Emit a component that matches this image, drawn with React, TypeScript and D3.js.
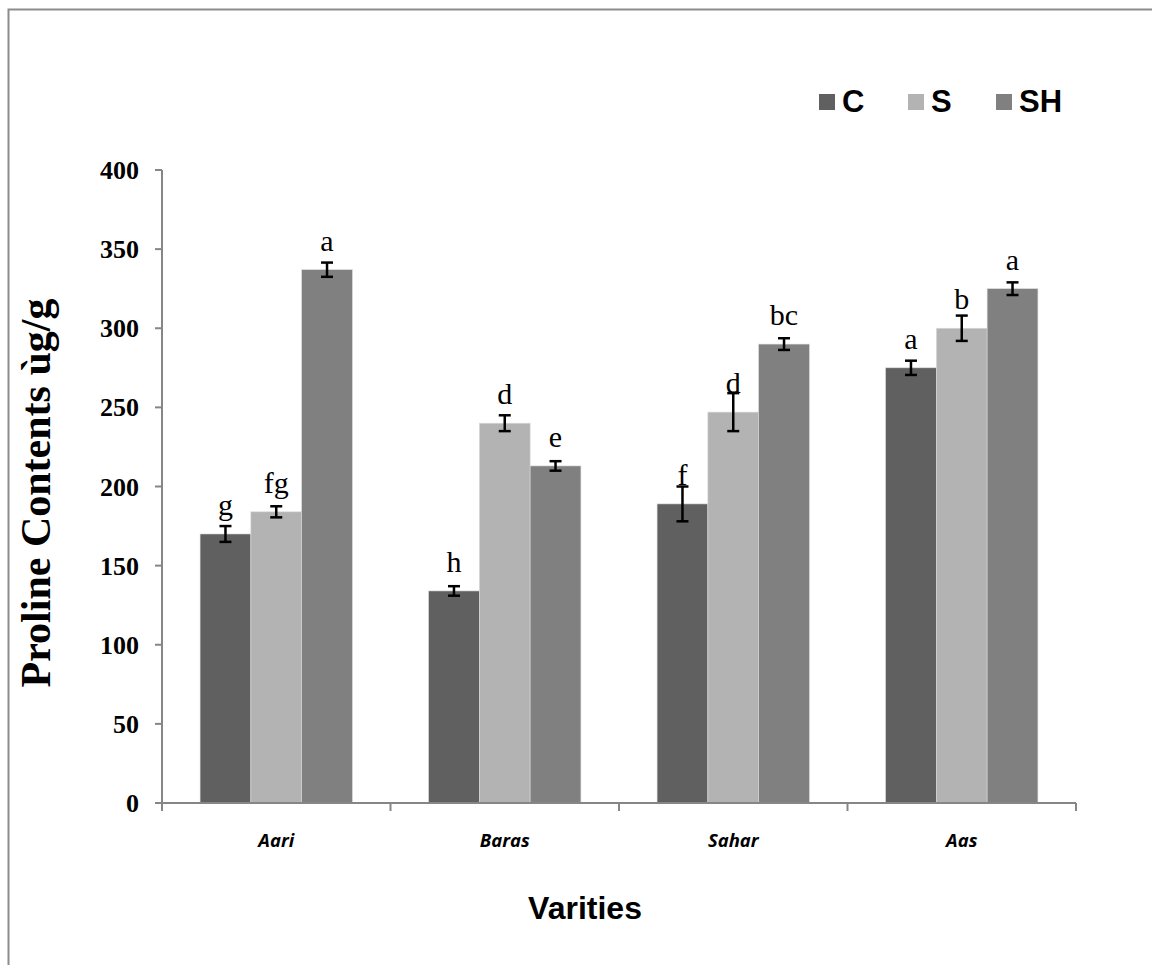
import React from "react";
import * as d3 from "d3";

const varieties = ["Aari", "Baras", "Sahar", "Aas"];
const treatments = ["C", "S", "SH"];
const valuesC = [170, 134, 189, 275];
const valuesS = [184, 240, 247, 300];
const valuesSH = [337, 213, 290, 325];
const errC = [5, 3, 11, 4.5];
const errS = [3.5, 5, 12, 8];
const errSH = [4.5, 3, 3.7, 4];
const lettersC = ["g", "h", "f", "a"];
const lettersS = ["fg", "d", "d", "b"];
const lettersSH = ["a", "e", "bc", "a"];
const yTicks = [0, 50, 100, 150, 200, 250, 300, 350, 400];

const colors: Record<string, string> = { C: "#606060", S: "#b3b3b3", SH: "#808080" };

const series = [
  { key: "C", values: valuesC, errs: errC, letters: lettersC },
  { key: "S", values: valuesS, errs: errS, letters: lettersS },
  { key: "SH", values: valuesSH, errs: errSH, letters: lettersSH },
];

export default function App() {
  const W = 1152;
  const H = 965;
  const left = 162;
  const right = 1076;
  const top = 170;
  const bottom = 803;
  const axisColor = "#868686";

  const x0 = d3.scaleBand<string>().domain(varieties).range([left, right]).paddingInner(0).paddingOuter(0);
  const cw = x0.bandwidth();
  const groupW = cw / 1.5;
  const x1 = d3
    .scaleBand<string>()
    .domain(treatments)
    .range([(cw - groupW) / 2, (cw + groupW) / 2])
    .padding(0);
  const y = d3.scaleLinear().domain([0, 400]).range([bottom, top]);

  const serif = "'Liberation Serif', 'Times New Roman', serif";
  const sans = "'Liberation Sans', Arial, sans-serif";

  return (
    <svg
      width={W}
      height={H}
      style={{ position: "absolute", left: 0, top: 0, display: "block", background: "#fff" }}
    >
      {/* outer frame */}
      <rect x={8.5} y={9.5} width={W + 10} height={H + 10} fill="#fff" stroke="#8c8c8c" strokeWidth={2} />

      {/* bars */}
      {series.map((s) =>
        varieties.map((v, i) => {
          const bx = (x0(v) as number) + (x1(s.key) as number);
          const by = y(s.values[i]);
          return (
            <rect
              key={s.key + v}
              x={bx}
              y={by}
              width={x1.bandwidth()}
              height={bottom - by}
              fill={colors[s.key]}
              stroke="#d9d9d9"
              strokeWidth={0.6}
            />
          );
        })
      )}

      {/* error bars */}
      {series.map((s) =>
        varieties.map((v, i) => {
          const cx = (x0(v) as number) + (x1(s.key) as number) + x1.bandwidth() / 2;
          const y1 = y(s.values[i] + s.errs[i]);
          const y2 = y(s.values[i] - s.errs[i]);
          return (
            <g key={"e" + s.key + v} stroke="#000" strokeWidth={2.5}>
              <line x1={cx} x2={cx} y1={y1} y2={y2} />
              <line x1={cx - 6} x2={cx + 6} y1={y1} y2={y1} />
              <line x1={cx - 6} x2={cx + 6} y1={y2} y2={y2} />
            </g>
          );
        })
      )}

      {/* significance letters */}
      {series.map((s) =>
        varieties.map((v, i) => {
          const cx = (x0(v) as number) + (x1(s.key) as number) + x1.bandwidth() / 2;
          return (
            <text
              key={"l" + s.key + v}
              x={cx}
              y={y(s.values[i]) - 19}
              textAnchor="middle"
              fontFamily={serif}
              fontSize={30}
              fill="#000"
            >
              {s.letters[i]}
            </text>
          );
        })
      )}

      {/* y axis */}
      <line x1={left} x2={left} y1={top} y2={bottom} stroke={axisColor} strokeWidth={2} />
      {yTicks.map((t) => (
        <g key={"yt" + t}>
          <line x1={left - 7} x2={left} y1={y(t)} y2={y(t)} stroke={axisColor} strokeWidth={2} />
          <text
            x={139}
            y={y(t)}
            dy="0.35em"
            textAnchor="end"
            fontFamily={serif}
            fontWeight="bold"
            fontSize={26}
            fill="#000"
          >
            {t}
          </text>
        </g>
      ))}

      {/* x axis */}
      <line x1={left - 7} x2={right} y1={bottom} y2={bottom} stroke={axisColor} strokeWidth={2} />
      {[...varieties.map((v) => x0(v) as number), right].map((tx, i) => (
        <line key={"xt" + i} x1={tx} x2={tx} y1={bottom} y2={bottom + 8} stroke={axisColor} strokeWidth={2} />
      ))}
      {varieties.map((v) => (
        <text
          key={"xl" + v}
          x={(x0(v) as number) + cw / 2}
          y={847}
          textAnchor="middle"
          fontFamily="'Open Sans', 'Noto Sans', sans-serif"
          fontStyle="italic"
          fontWeight="bold"
          fontSize={18.5}
          fill="#000"
        >
          {v}
        </text>
      ))}

      {/* axis titles */}
      <text
        x={585}
        y={919}
        textAnchor="middle"
        fontFamily={sans}
        fontWeight="bold"
        fontSize={32}
        fill="#000"
      >
        Varities
      </text>
      <text
        transform={`translate(50, 493) rotate(-90)`}
        textAnchor="middle"
        fontFamily={serif}
        fontWeight="bold"
        fontSize={42}
        fill="#000"
      >
        Proline Contents ùg/g
      </text>

      {/* legend */}
      {[
        { k: "C", x: 819 },
        { k: "S", x: 908 },
        { k: "SH", x: 996 },
      ].map((d) => (
        <g key={"lg" + d.k}>
          <rect x={d.x} y={94} width={16} height={16} fill={colors[d.k]} />
          <text x={d.x + 23} y={112} fontFamily={sans} fontWeight="bold" fontSize={31} fill="#000">
            {d.k}
          </text>
        </g>
      ))}
    </svg>
  );
}
